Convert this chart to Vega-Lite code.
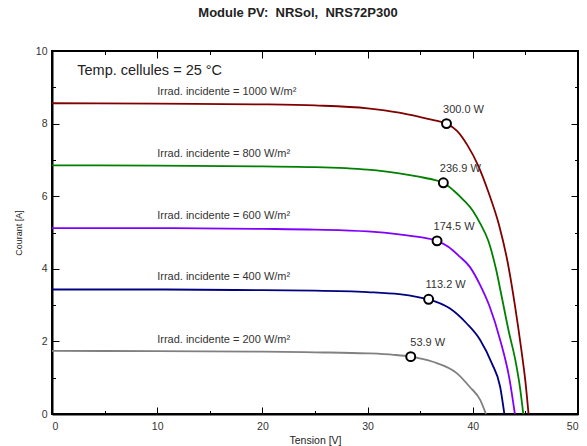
{
  "$schema": "https://vega.github.io/schema/vega-lite/v6.json",
  "autosize": "none",
  "width": 526,
  "height": 363,
  "padding": {"left": 52, "top": 51, "right": 9, "bottom": 32},
  "background": "white",
  "title": {"text": "Module PV:\u00a0 NRSol,\u00a0 NRS72P300", "fontSize": 13, "fontWeight": "bold", "font": "Liberation Sans", "color": "#222222", "offset": 26, "dx": -17},
  "config": {
    "view": {"stroke": "black", "strokeWidth": 2},
    "axis": {"grid": false, "domainColor": "black", "domainWidth": 2, "tickColor": "black", "tickWidth": 1, "labelFont": "Liberation Sans", "labelFontSize": 10.5, "labelColor": "#333333", "titleFont": "Liberation Sans", "titleFontWeight": "normal", "titleColor": "#222222"}
  },
  "datasets": {
    "curves": [
      {"irr": "1000", "V": 0, "I": 8.56}, {"irr": "1000", "V": 10, "I": 8.55}, {"irr": "1000", "V": 20, "I": 8.53}, {"irr": "1000", "V": 25, "I": 8.5}, {"irr": "1000", "V": 30, "I": 8.42}, {"irr": "1000", "V": 33, "I": 8.3}, {"irr": "1000", "V": 35, "I": 8.18}, {"irr": "1000", "V": 36.5, "I": 8.08}, {"irr": "1000", "V": 37.5, "I": 8.0}, {"irr": "1000", "V": 38.5, "I": 7.8}, {"irr": "1000", "V": 39.5, "I": 7.4}, {"irr": "1000", "V": 40.5, "I": 6.85}, {"irr": "1000", "V": 41.5, "I": 6.1}, {"irr": "1000", "V": 42.5, "I": 5.2}, {"irr": "1000", "V": 43.3, "I": 4.2}, {"irr": "1000", "V": 44.0, "I": 3.0}, {"irr": "1000", "V": 44.6, "I": 1.8}, {"irr": "1000", "V": 45.0, "I": 0.9}, {"irr": "1000", "V": 45.3, "I": 0},
      {"irr": "800", "V": 0, "I": 6.85}, {"irr": "800", "V": 10, "I": 6.84}, {"irr": "800", "V": 20, "I": 6.82}, {"irr": "800", "V": 25, "I": 6.8}, {"irr": "800", "V": 30, "I": 6.73}, {"irr": "800", "V": 33, "I": 6.63}, {"irr": "800", "V": 35, "I": 6.53}, {"irr": "800", "V": 36.3, "I": 6.45}, {"irr": "800", "V": 37.2, "I": 6.37}, {"irr": "800", "V": 38.2, "I": 6.15}, {"irr": "800", "V": 39.1, "I": 5.9}, {"irr": "800", "V": 40.0, "I": 5.6}, {"irr": "800", "V": 40.7, "I": 5.25}, {"irr": "800", "V": 41.5, "I": 4.75}, {"irr": "800", "V": 42.2, "I": 4.0}, {"irr": "800", "V": 42.75, "I": 3.23}, {"irr": "800", "V": 43.4, "I": 2.3}, {"irr": "800", "V": 44.1, "I": 1.4}, {"irr": "800", "V": 44.5, "I": 0.7}, {"irr": "800", "V": 44.8, "I": 0},
      {"irr": "600", "V": 0, "I": 5.12}, {"irr": "600", "V": 10, "I": 5.12}, {"irr": "600", "V": 20, "I": 5.1}, {"irr": "600", "V": 25, "I": 5.08}, {"irr": "600", "V": 30, "I": 5.03}, {"irr": "600", "V": 33, "I": 4.95}, {"irr": "600", "V": 35, "I": 4.87}, {"irr": "600", "V": 36.6, "I": 4.77}, {"irr": "600", "V": 37.7, "I": 4.6}, {"irr": "600", "V": 38.7, "I": 4.35}, {"irr": "600", "V": 39.7, "I": 4.06}, {"irr": "600", "V": 40.7, "I": 3.55}, {"irr": "600", "V": 41.6, "I": 2.96}, {"irr": "600", "V": 42.6, "I": 2.04}, {"irr": "600", "V": 43.5, "I": 0.94}, {"irr": "600", "V": 44.0, "I": 0},
      {"irr": "400", "V": 0, "I": 3.43}, {"irr": "400", "V": 10, "I": 3.43}, {"irr": "400", "V": 20, "I": 3.41}, {"irr": "400", "V": 25, "I": 3.4}, {"irr": "400", "V": 30, "I": 3.36}, {"irr": "400", "V": 33, "I": 3.3}, {"irr": "400", "V": 34.8, "I": 3.22}, {"irr": "400", "V": 35.8, "I": 3.16}, {"irr": "400", "V": 37.8, "I": 2.91}, {"irr": "400", "V": 39.4, "I": 2.5}, {"irr": "400", "V": 40.7, "I": 2.04}, {"irr": "400", "V": 41.8, "I": 1.4}, {"irr": "400", "V": 42.6, "I": 0.75}, {"irr": "400", "V": 43.0, "I": 0},
      {"irr": "200", "V": 0, "I": 1.74}, {"irr": "200", "V": 10, "I": 1.73}, {"irr": "200", "V": 20, "I": 1.72}, {"irr": "200", "V": 25, "I": 1.7}, {"irr": "200", "V": 30, "I": 1.67}, {"irr": "200", "V": 32.5, "I": 1.63}, {"irr": "200", "V": 34.1, "I": 1.58}, {"irr": "200", "V": 36.2, "I": 1.44}, {"irr": "200", "V": 38.5, "I": 1.12}, {"irr": "200", "V": 39.7, "I": 0.75}, {"irr": "200", "V": 40.7, "I": 0.39}, {"irr": "200", "V": 41.25, "I": 0}
    ],
    "mpp": [
      {"irr": "1000", "V": 37.5, "I": 8.0, "label": "300.0 W"},
      {"irr": "800", "V": 37.2, "I": 6.37, "label": "236.9 W"},
      {"irr": "600", "V": 36.6, "I": 4.77, "label": "174.5 W"},
      {"irr": "400", "V": 35.8, "I": 3.16, "label": "113.2 W"},
      {"irr": "200", "V": 34.1, "I": 1.58, "label": "53.9 W"}
    ],
    "irrlabels": [
      {"V": 10, "I": 8.87, "label": "Irrad. incidente = 1000 W/m²"},
      {"V": 10, "I": 7.16, "label": "Irrad. incidente = 800 W/m²"},
      {"V": 10, "I": 5.45, "label": "Irrad. incidente = 600 W/m²"},
      {"V": 10, "I": 3.77, "label": "Irrad. incidente = 400 W/m²"},
      {"V": 10, "I": 2.04, "label": "Irrad. incidente = 200 W/m²"}
    ],
    "temp": [{"V": 2.4, "I": 9.45, "label": "Temp. cellules = 25 °C"}]
  },
  "resolve": {"axis": {"x": "independent", "y": "independent"}},
  "layer": [
    {
      "data": {"name": "curves"},
      "mark": {"type": "line", "strokeWidth": 1.8, "interpolate": "monotone"},
      "encoding": {
        "x": {"field": "V", "type": "quantitative", "scale": {"domain": [0, 50], "nice": false},
          "axis": {"orient": "bottom", "title": "Tension [V]", "titleFontSize": 10.5, "titlePadding": 4, "values": [0, 5, 10, 15, 20, 25, 30, 35, 40, 45, 50], "labelExpr": "datum.value % 10 === 0 ? datum.label : ''", "tickSize": {"condition": {"test": "datum.value % 10 === 0", "value": -7}, "value": -3.5}, "labelPadding": 14}},
        "y": {"field": "I", "type": "quantitative", "scale": {"domain": [0, 10], "nice": false},
          "axis": {"orient": "left", "title": "Courant [A]", "titleFontSize": 9, "titlePadding": 12, "values": [0, 1, 2, 3, 4, 5, 6, 7, 8, 9, 10], "labelExpr": "datum.value % 2 === 0 ? datum.label : ''", "tickSize": {"condition": {"test": "datum.value % 2 === 0", "value": -7}, "value": -3.5}, "labelPadding": 12}},
        "color": {"field": "irr", "type": "nominal", "scale": {"domain": ["1000", "800", "600", "400", "200"], "range": ["#800000", "#008000", "#8000ff", "#000080", "#808080"]}, "legend": null}
      }
    },
    {
      "data": {"name": "irrlabels"},
      "mark": {"type": "text", "align": "left", "baseline": "middle", "font": "Liberation Sans", "fontSize": 11, "color": "#333333"},
      "encoding": {
        "x": {"field": "V", "type": "quantitative",
          "axis": {"orient": "top", "title": null, "labels": false, "domain": false, "values": [0, 5, 10, 15, 20, 25, 30, 35, 40, 45, 50], "tickSize": {"condition": {"test": "datum.value % 10 === 0", "value": -7}, "value": -3.5}}},
        "y": {"field": "I", "type": "quantitative",
          "axis": {"orient": "right", "title": null, "labels": false, "domain": false, "values": [0, 1, 2, 3, 4, 5, 6, 7, 8, 9, 10], "tickSize": {"condition": {"test": "datum.value % 2 === 0", "value": -7}, "value": -3.5}}},
        "text": {"field": "label"}
      }
    },
    {
      "data": {"name": "mpp"},
      "mark": {"type": "point", "shape": "circle", "filled": false, "fill": "white", "fillOpacity": 1, "stroke": "black", "strokeWidth": 2, "size": 80, "opacity": 1},
      "encoding": {
        "x": {"field": "V", "type": "quantitative", "axis": null},
        "y": {"field": "I", "type": "quantitative", "axis": null}
      }
    },
    {
      "data": {"name": "mpp"},
      "mark": {"type": "text", "align": "center", "baseline": "middle", "font": "Liberation Sans", "fontSize": 11, "color": "#333333", "dx": 17, "dy": -14},
      "encoding": {
        "x": {"field": "V", "type": "quantitative", "axis": null},
        "y": {"field": "I", "type": "quantitative", "axis": null},
        "text": {"field": "label"}
      }
    },
    {
      "data": {"name": "temp"},
      "mark": {"type": "text", "align": "left", "baseline": "middle", "font": "Liberation Sans", "fontSize": 14.5, "color": "#222222"},
      "encoding": {
        "x": {"field": "V", "type": "quantitative", "axis": null},
        "y": {"field": "I", "type": "quantitative", "axis": null},
        "text": {"field": "label"}
      }
    }
  ]
}
